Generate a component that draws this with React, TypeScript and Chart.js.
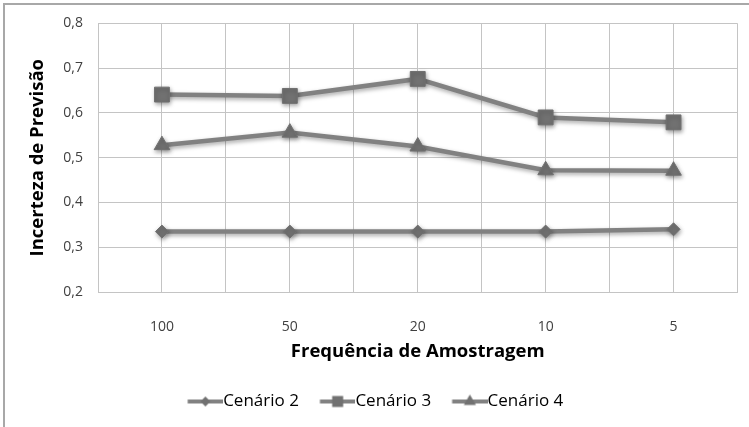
import React, { useEffect, useRef } from 'react';
import { Chart, registerables } from 'chart.js';

Chart.register(...registerables);

// ---- data ----
const categories = ['100', '50', '20', '10', '5'];
const seriesNames = ['Cenário 2', 'Cenário 3', 'Cenário 4'];
const cenario2 = [0.335, 0.335, 0.335, 0.335, 0.34];
const cenario3 = [0.641, 0.638, 0.676, 0.59, 0.579];
const cenario4 = [0.528, 0.556, 0.525, 0.472, 0.471];
const yMin = 0.2;
const yMax = 0.8;
const yStep = 0.1;
const xTitle = 'Frequência de Amostragem';
const yTitle = 'Incerteza de Previsão';

const FONT = "'Open Sans', 'DejaVu Sans', sans-serif";
const LINE_COLOR = '#818181';
const MARKER_COLOR = '#717171';
const GRID_COLOR = '#c4c4c4';

function makeLegendIcon(style: string): HTMLCanvasElement {
  const c = document.createElement('canvas');
  c.width = 55;
  c.height = 16;
  const ctx = c.getContext('2d')!;
  ctx.strokeStyle = LINE_COLOR;
  ctx.lineWidth = 4;
  ctx.beginPath();
  ctx.moveTo(19.5, 8);
  ctx.lineTo(55, 8);
  ctx.stroke();
  ctx.fillStyle = MARKER_COLOR;
  const cx = 37.25;
  const cy = 8;
  ctx.beginPath();
  if (style === 'rectRot') {
    const r = 5;
    ctx.moveTo(cx, cy - r);
    ctx.lineTo(cx + r, cy);
    ctx.lineTo(cx, cy + r);
    ctx.lineTo(cx - r, cy);
  } else if (style === 'rect') {
    ctx.rect(cx - 5.5, cy - 5.5, 11, 11);
  } else {
    const r = 7;
    ctx.moveTo(cx, cy - r);
    ctx.lineTo(cx + r * 0.866, cy + r * 0.5);
    ctx.lineTo(cx - r * 0.866, cy + r * 0.5);
  }
  ctx.closePath();
  ctx.fill();
  return c;
}

export default function App() {
  const ref = useRef<HTMLCanvasElement | null>(null);

  useEffect(() => {
    if (!ref.current) return;
    const styles = ['rectRot', 'rect', 'triangle'];
    const radii = [6.5, 10.5, 9];
    const values = [cenario2, cenario3, cenario4];
    const icons = styles.map(makeLegendIcon);

    const datasets = values.map((vals, i) => ({
      label: seriesNames[i],
      data: vals.map((v, j) => ({ x: j, y: v })),
      borderColor: LINE_COLOR,
      backgroundColor: MARKER_COLOR,
      borderWidth: 4.5,
      pointStyle: styles[i] as any,
      pointRadius: radii[i],
      pointBackgroundColor: MARKER_COLOR,
      pointBorderColor: MARKER_COLOR,
      pointBorderWidth: 1,
      tension: 0,
    }));

    const framePlugin = {
      id: 'frame',
      beforeDraw(chart: any) {
        const c = chart.ctx;
        c.save();
        c.fillStyle = '#ffffff';
        c.fillRect(0, 0, chart.width, chart.height);
        c.fillStyle = '#a8a8a8';
        c.fillRect(3, 3, 2, chart.height);
        c.fillRect(3, 3, chart.width, 2);
        c.restore();
      },
    };

    const shadowPlugin = {
      id: 'shadow',
      beforeDatasetsDraw(chart: any) {
        const c = chart.ctx;
        c.save();
        c.shadowColor = 'rgba(0,0,0,0.35)';
        c.shadowBlur = 4;
        c.shadowOffsetX = 1;
        c.shadowOffsetY = 2;
      },
      afterDatasetsDraw(chart: any) {
        chart.ctx.restore();
      },
    };

    const chart = new Chart(ref.current, {
      type: 'line',
      data: { datasets },
      options: {
        responsive: false,
        animation: false,
        devicePixelRatio: 1,
        layout: { padding: { left: 0, right: 9, top: 22, bottom: 7 } },
        plugins: {
          tooltip: { enabled: false },
          legend: {
            position: 'bottom',
            labels: {
              usePointStyle: true,
              pointStyleWidth: 38,
              padding: 10,
              color: '#333333',
              font: { family: FONT, size: 17 },
              generateLabels: () =>
                seriesNames.map((name, i) => ({
                  text: name,
                  pointStyle: icons[i] as any,
                  fillStyle: MARKER_COLOR,
                  strokeStyle: MARKER_COLOR,
                  lineWidth: 0,
                  hidden: false,
                  datasetIndex: i,
                })),
            },
          },
        },
        scales: {
          x: {
            type: 'linear',
            min: -0.5,
            max: 4.5,
            afterFit: (s: any) => {
              s.height = 91;
            },
            ticks: {
              stepSize: 0.5,
              autoSkip: false,
              maxRotation: 0,
              padding: 3,
              color: '#404040',
              font: { family: FONT, size: 14, lineHeight: '64px' },
              callback: (v: any) => {
                const n = Number(v);
                return Number.isInteger(n) ? categories[n] ?? '' : '';
              },
            },
            grid: { color: GRID_COLOR, lineWidth: 1, drawTicks: false },
            border: { color: GRID_COLOR, width: 1 },
            title: {
              display: true,
              text: xTitle,
              color: '#000000',
              font: { family: FONT, size: 18.5, weight: 'bold' },
              padding: { top: 0, bottom: 20 },
            },
          },
          y: {
            min: yMin,
            max: yMax,
            afterFit: (s: any) => {
              s.width = 98;
            },
            ticks: {
              stepSize: yStep,
              padding: 15,
              color: '#404040',
              font: { family: FONT, size: 14 },
              callback: (v: any) => Number(v).toFixed(1).replace('.', ','),
            },
            grid: { color: GRID_COLOR, lineWidth: 1, drawTicks: false },
            border: { color: GRID_COLOR, width: 1 },
            title: {
              display: true,
              text: yTitle,
              color: '#000000',
              font: { family: FONT, size: 18.5, weight: 'bold' },
              padding: { top: 27, bottom: 0 },
            },
          },
        },
      },
      plugins: [framePlugin, shadowPlugin],
    });

    return () => chart.destroy();
  }, []);

  return (
    <div style={{ position: 'absolute', left: 0, top: 0, width: 749, height: 427 }}>
      <canvas ref={ref} width={749} height={427} style={{ width: 749, height: 427, display: 'block' }} />
    </div>
  );
}
